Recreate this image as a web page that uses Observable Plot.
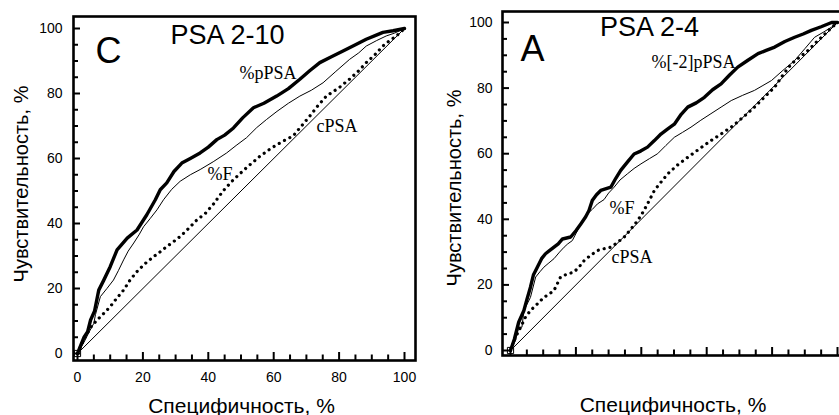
<!DOCTYPE html>
<html><head><meta charset="utf-8">
<script src="https://cdn.jsdelivr.net/npm/d3@7"></script>
<script src="https://cdn.jsdelivr.net/npm/@observablehq/plot@0.6"></script>
<style>
body{margin:0;background:#fff;}
#fig{position:relative;width:839px;height:415px;overflow:hidden;background:#fff;}
#fig svg{position:absolute;top:0;max-width:none;}
</style></head><body><div id="fig"></div>
<script>
// ---------- data ----------
const majorTicks = [0, 20, 40, 60, 80, 100];
const minorTicks = [5, 10, 15, 25, 30, 35, 45, 50, 55, 65, 70, 75, 85, 90, 95];
const diagonal = [[0, 0], [100, 100]];
const origin = [[0, 0]];

// Panel C: PSA 2-10  (x = specificity-axis %, y = sensitivity %)
const pPSA_2_10 = [[0,0],[2,5],[3.1,6.7],[4,10.3],[5.2,13],[6.5,19.5],[8,22.5],[10,26.7],[12.1,31.9],[15.2,35.5],[18.2,38],[21.2,42.7],[23.8,47.3],[25.3,50.4],[27.3,52.5],[29.5,56],[31.9,58.6],[34.5,60],[37.5,61.7],[40,63.5],[42.6,65.8],[45,67.2],[47.7,69.4],[50.5,72.5],[53.8,75.6],[57,77],[60.9,79.2],[64.5,81.5],[68,84.4],[71,87],[74.1,89.5],[77.5,91.2],[81.2,93.1],[85,95],[88.3,96.7],[91,97.8],[93.4,98.8],[96.5,99.3],[100,100]];
const F_2_10 = [[0,0],[2,3.5],[3.5,6.5],[5,9.3],[5.5,12],[7,17.5],[9,20],[11,22.6],[12.5,25.5],[14.1,28.8],[15.5,31.5],[17.2,34],[18.8,36.5],[20.2,39],[22.2,41.5],[24.3,44.2],[26.3,47.3],[28.8,50.5],[31.4,53],[34.5,55],[37.5,56.6],[41.5,59],[45.6,61.7],[48.5,64],[51.7,66.4],[54.8,69.5],[57.8,72],[61,74.5],[64.5,77],[68,79.2],[71.5,81],[75.1,83.3],[79,86.8],[83.2,90.5],[86,92.5],[88.3,94.6],[91.5,96.3],[94.4,97.7],[97,98.6],[100,100]];
const cPSA_2_10 = [[0,0],[2,4.5],[4,8],[6,10.3],[8,12.3],[10,14.4],[12,17],[14.1,19.5],[16,22.5],[18.2,25.2],[20.5,27.5],[23.3,29.8],[25.3,31.3],[27.3,32.9],[29.5,34.5],[31.4,36],[34,38.5],[36.5,41.1],[39,43],[41.6,46],[44.5,50],[47.7,53.5],[51.5,57],[55.8,60.7],[59,63],[61.9,64.8],[63.9,65.9],[65.9,66.9],[68.5,70],[71,73],[73.5,76.2],[76.1,79.2],[80,81.8],[83.2,84.4],[86,87],[88.3,89.5],[91,92],[93.4,94.6],[95.5,96.3],[97.5,97.7],[100,100]];

// Panel A: PSA 2-4
const pPSA2_2_4 = [[0,0],[1.2,3.5],[2.5,8.6],[4.1,12.2],[5,15.5],[6.1,19.3],[7,23],[8.2,25.4],[9.5,28],[10.7,29.5],[12,30.5],[13.3,31.5],[14.6,32.5],[15.9,34],[18.4,34.6],[20,36.5],[21.5,38.6],[23,40.8],[24,42.7],[25,45.7],[26.3,47.5],[27.6,48.8],[30.7,49.8],[32.2,52.5],[33.7,54.9],[35.8,57.5],[37.8,59.9],[39.8,60.8],[41.9,62],[44,64],[46,66],[48,67.5],[50.1,69],[52.2,72],[54.2,74.2],[56.8,75.5],[59.3,77.2],[61.8,79.5],[64.4,81.3],[67,84],[69.5,86.4],[72.6,88.5],[75.7,90.5],[78.2,91.5],[80.8,92.5],[83.9,94.2],[86.9,95.5],[89.5,96.5],[92,97.6],[95,98.7],[98.2,100],[100,100]];
const F_2_4 = [[0,0],[1.5,3],[2.5,7.1],[3.5,7.1],[4.1,12.2],[5,14],[6.1,16.2],[7.7,22.4],[9,24],[10.2,25.4],[11.5,26.5],[13.3,28],[15,30],[16.4,31.5],[17.5,32.5],[18.9,33.5],[20.5,36.6],[22,39.5],[23.5,41.7],[25,43],[26.6,44.7],[28.6,46],[30,48],[31.7,49.8],[33.5,52],[35.8,53.9],[37.8,55.5],[39.9,56.9],[42.5,58.5],[45,60],[47.5,62.5],[50.1,65],[52.6,66.5],[55.2,68.1],[58.2,70.2],[61.3,72.2],[64.4,74.2],[67.5,76.2],[71,77.8],[74.6,79.3],[77.2,80.8],[79.8,82.3],[83.3,85.4],[86.9,88.4],[90,92],[93,95.5],[95.6,97],[98.2,98.6],[100,100]];
const cPSA_2_4 = [[0,0],[1.5,4],[3.1,7.1],[4.5,10],[6.1,12.2],[8,14],[10.2,16.2],[11.8,17.2],[13.3,18.3],[15.3,22.4],[17.3,23.3],[19.4,23.9],[21,25.5],[22.5,27.4],[24.5,29],[26.6,30.5],[28.5,31],[30.7,31.5],[32.8,33],[34.8,34.6],[36.8,37],[38.9,39.6],[40.4,42],[41.9,44.7],[44,48.8],[46,51.3],[48.1,53.9],[51,56.5],[54.2,58.9],[57.8,61.5],[61.3,64],[64.4,66],[67.5,68.1],[71,71],[74.6,74.2],[77.7,77.3],[80.8,80.3],[83.3,84],[85.9,87.4],[88.5,89.5],[91,91.5],[93,93.5],[95.1,95.5],[97.5,97.8],[100,100]];

const yTitle = "Чувствительность, %";
const xTitle = "Специфичность, %";

// ---------- drawing ----------
const SANS = "Liberation Sans, Arial, Helvetica, sans-serif";
const SERIF = "Liberation Serif, Times New Roman, serif";

function panel(p) {
  const xDom = [(p.mL - p.x0) / p.xk, (p.width - p.mR - p.x0) / p.xk];
  const yDom = [(p.y0 - (p.height - p.mB)) / p.yk, (p.y0 - p.mT) / p.yk];
  const X = d => d[0], Y = d => d[1];
  const xMaj = 8 / p.yk, xMin = 5.5 / p.yk, yMaj = 7 / p.xk, yMin = 5 / p.xk;
  const tickStyle = {stroke: "black", strokeWidth: 2};
  const txt = (s, o) => Plot.text([s], {text: d => d, frameAnchor: "top-left", textAnchor: "start", lineAnchor: "bottom", fill: "black", ...o});
  const marks = [
    Plot.line(diagonal, {x: X, y: Y, stroke: "black", strokeWidth: 1}),
    Plot.line(p.c, {x: X, y: Y, stroke: "black", strokeWidth: 3.2, strokeDasharray: "0.01 6", strokeLinecap: "round"}),
    Plot.line(p.f, {x: X, y: Y, stroke: "black", strokeWidth: 1}),
    Plot.line(p.p, {x: X, y: Y, stroke: "black", strokeWidth: 3.4, strokeLinejoin: "round"}),
    Plot.dot(origin, {x: X, y: Y, symbol: "square", r: 3.5, stroke: "black", strokeWidth: 1, fill: "none"}),
    Plot.frame({stroke: "black", strokeWidth: 2.6}),
    Plot.ruleX(majorTicks, {x: d => d, y1: yDom[0], y2: yDom[0] + xMaj, ...tickStyle}),
    Plot.ruleX(minorTicks, {x: d => d, y1: yDom[0], y2: yDom[0] + xMin, ...tickStyle}),
    Plot.ruleY(majorTicks, {y: d => d, x1: xDom[0], x2: xDom[0] + yMaj, ...tickStyle}),
    Plot.ruleY(minorTicks, {y: d => d, x1: xDom[0], x2: xDom[0] + yMin, ...tickStyle}),
    Plot.axisY({ticks: majorTicks, tickSize: 0, tickPadding: p.yPad, label: null, fontSize: 14, fill: "black"}),
    Plot.text([yTitle], {text: d => d, frameAnchor: "left", rotate: -90, textAnchor: "middle", lineAnchor: "middle", dx: p.yTdx, dy: p.yTdy, fontSize: 20, fill: "black"}),
    Plot.text([xTitle], {text: d => d, frameAnchor: "bottom", textAnchor: "middle", lineAnchor: "bottom", dx: p.xTdx, dy: p.xTdy, fontSize: 21, fill: "black"}),
    txt(p.letter, {dx: p.letterD[0], dy: p.letterD[1], fontSize: 36}),
    txt(p.title, {dx: p.titleD[0], dy: p.titleD[1], fontSize: 27}),
    txt(p.pLabel, {dx: p.pD[0], dy: p.pD[1], fontSize: 18, fontFamily: SERIF}),
    txt("%F", {dx: p.fD[0], dy: p.fD[1], fontSize: 18, fontFamily: SERIF}),
    txt("cPSA", {dx: p.cD[0], dy: p.cD[1], fontSize: 18, fontFamily: SERIF})
  ];
  if (p.showX) marks.push(Plot.axisX({ticks: majorTicks, tickSize: 0, tickPadding: 12, label: null, fontSize: 14, fill: "black"}));
  const svg = Plot.plot({
    width: p.width, height: p.height,
    marginLeft: p.mL, marginRight: p.mR, marginTop: p.mT, marginBottom: p.mB,
    x: {domain: xDom, axis: p.showX ? undefined : null},
    y: {domain: yDom},
    style: {fontFamily: SANS, fontSize: "14px", background: "transparent", color: "black"},
    marks
  });
  svg.style.left = p.left + "px";
  return svg;
}

const fig = document.getElementById("fig");
fig.appendChild(panel({
  left: 0, width: 420, height: 415, mL: 73, mR: 5, mT: 16, mB: 55,
  x0: 77, xk: 3.27, y0: 353, yk: 3.25, yPad: 11, showX: true,
  p: pPSA_2_10, f: F_2_10, c: cPSA_2_10,
  letter: "C", letterD: [22, 46], title: "PSA 2-10", titleD: [97, 27],
  pLabel: "%pPSA", pD: [166, 62], fD: [134, 163], cD: [243, 115],
  yTdx: -52, yTdy: -4.5, xTdx: -3, xTdy: 52
}));
fig.appendChild(panel({
  left: 420, width: 440, height: 415, mL: 82, mR: 0, mT: 11, mB: 60,
  x0: 90, xk: 3.27, y0: 350, yk: 3.28, yPad: 10, showX: false,
  p: pPSA2_2_4, f: F_2_4, c: cPSA_2_4,
  letter: "A", letterD: [18, 49], title: "PSA 2-4", titleD: [97.5, 24],
  pLabel: "%[-2]pPSA", pD: [149, 56], fD: [107, 202], cD: [109, 251],
  yTdx: -48, yTdy: 4.5, xTdx: -8.5, xTdy: 56.7
}));
</script></body></html>
